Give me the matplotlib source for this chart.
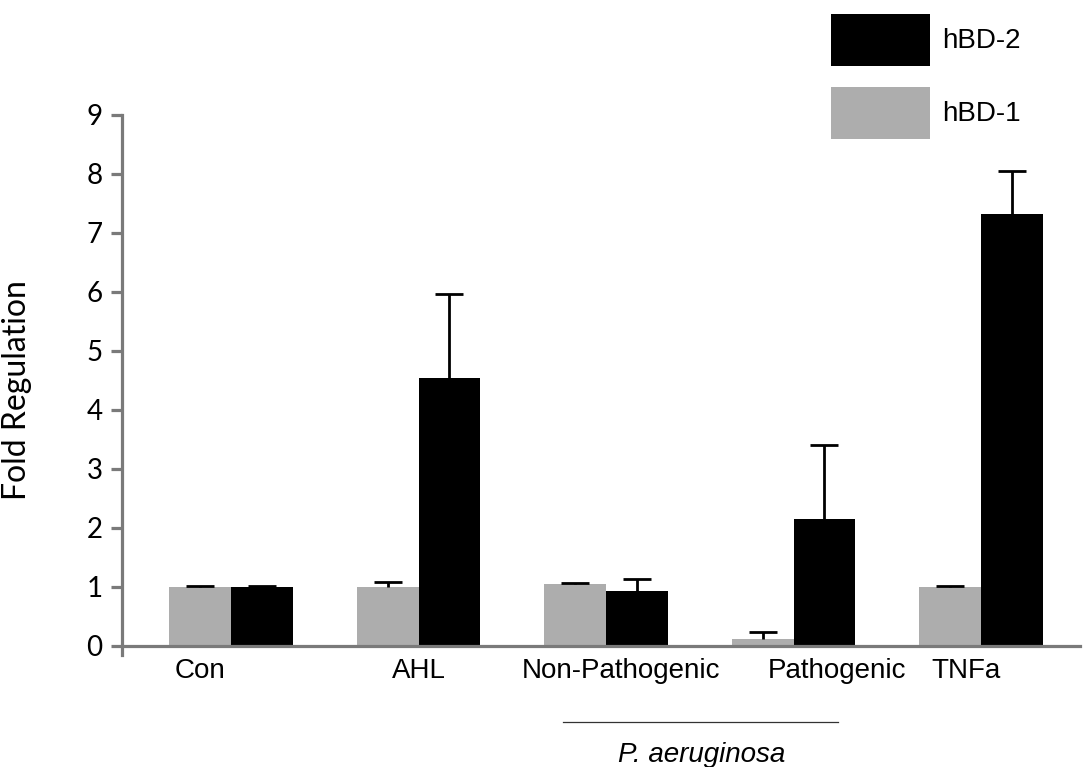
import matplotlib
matplotlib.use("Agg")
import matplotlib.pyplot as plt
from matplotlib.patches import Patch
import numpy as np

categories = ["Con", "AHL", "Non-Pathogenic", "Pathogenic", "TNFa"]
hbd1 = [1.00, 1.00, 1.05, 0.12, 1.00]
hbd1_err = [0.02, 0.08, 0.02, 0.12, 0.02]
hbd2 = [1.00, 4.54, 0.93, 2.15, 7.32]
hbd2_err = [0.01, 1.43, 0.20, 1.26, 0.73]
yticks = list(range(0, 10))

# label anchors relative to each group centre (the labels sit as free text)
label_shift = [-0.165, 0.0, 0.08, 0.23, -0.08]

GRAY_AXIS = "#7a7a7a"
BAR_GRAY = "#adadad"
FS = 20

fig = plt.figure(figsize=(10.83, 7.67), dpi=100)
ax = fig.add_axes([0.1127, 0.1578, 0.8846, 0.6923])

x = np.arange(len(categories))
w = 0.33
ekw = dict(ecolor="black", elinewidth=2.0, capsize=10, capthick=2.0)
bars = []
bars.append(ax.bar(x - w / 2, hbd1, width=w, color=BAR_GRAY, label="hBD-1",
                   yerr=[np.zeros(len(hbd1)), hbd1_err], error_kw=ekw, zorder=2))
bars.append(ax.bar(x + w / 2, hbd2, width=w, color="black", label="hBD-2",
                   yerr=[np.zeros(len(hbd2)), hbd2_err], error_kw=ekw, zorder=2))

# positive-only error bars: hide the cap that sits on the bar top
for cont, heights in zip(bars, (hbd1, hbd2)):
    for cap in cont.errorbar.lines[1]:
        if np.allclose(cap.get_ydata(), heights):
            cap.set_visible(False)

ax.set_xlim(-0.581, 4.528)
ax.set_ylim(0, 9)
ax.set_yticks(yticks)
ax.set_yticklabels([str(t) for t in yticks], fontfamily="Lato", fontsize=FS)

for side in ("top", "right"):
    ax.spines[side].set_visible(False)
for side in ("left", "bottom"):
    ax.spines[side].set_color(GRAY_AXIS)
    ax.spines[side].set_linewidth(2.3)
    ax.spines[side].set_zorder(3)
ax.spines["left"].set_bounds(-0.15, 9)

ax.tick_params(axis="y", direction="out", length=8, width=2.3, color=GRAY_AXIS, pad=6)
ax.set_xticks([])

for xi, s, name in zip(x, label_shift, categories):
    ax.text(xi + s, -0.42, name, ha="center", va="center",
            fontfamily="Liberation Sans", fontsize=FS)

ax.set_ylabel("Fold Regulation", fontfamily="Lato", fontsize=23)
ax.yaxis.set_label_coords(-0.094, 0.482)

# bracket grouping the two P. aeruginosa strains
line_y = 1 - 722 / 767
fig.add_artist(plt.Line2D([563 / 1083, 838 / 1083], [line_y, line_y],
                          color="#333333", linewidth=0.9))
fig.text(702 / 1083, 1 - 755 / 767, "P. aeruginosa", ha="center", va="center",
         fontfamily="Liberation Sans", fontstyle="italic", fontsize=FS)

handles = [Patch(facecolor="black", label="hBD-2"),
           Patch(facecolor=BAR_GRAY, label="hBD-1")]
fig.legend(handles=handles, loc="upper left",
           bbox_to_anchor=(831 / 1083, 1 - 14 / 767),
           frameon=False, borderpad=0, borderaxespad=0,
           handlelength=3.55, handleheight=2.5, handletextpad=0.45,
           labelspacing=0.75, prop=dict(family="Liberation Sans", size=FS))

fig.savefig("out.png", dpi=100)
